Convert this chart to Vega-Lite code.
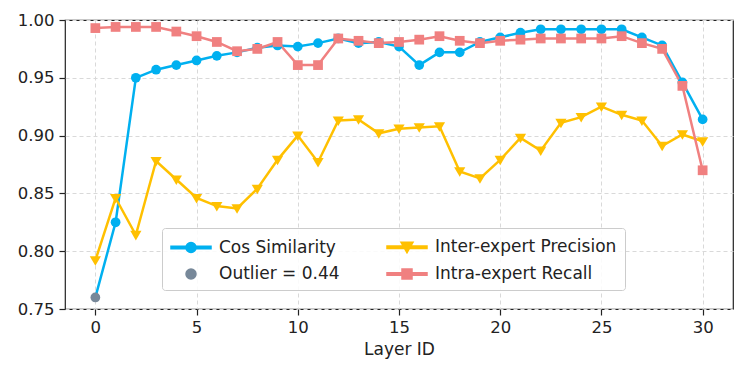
{
  "$schema": "https://vega.github.io/schema/vega-lite/v6.json",
  "width": 668,
  "height": 289,
  "autosize": {"type": "none"},
  "padding": {"left": 65, "top": 20, "right": 14, "bottom": 65},
  "config": {
    "font": "DejaVu Sans",
    "view": {"stroke": "#222", "strokeWidth": 1.2},
    "axis": {
      "labelFont": "DejaVu Sans", "titleFont": "DejaVu Sans",
      "labelFontSize": 16.5, "titleFontSize": 17, "titleFontWeight": "normal",
      "labelColor": "#222", "titleColor": "#222",
      "tickColor": "#222", "tickSize": 6, "tickWidth": 1.2,
      "domain": false,
      "gridColor": "#d9d9d9", "gridDash": [4, 3], "gridWidth": 1
    }
  },
  "data": {
    "values": [
      {"layer":0,"series":"Cos Similarity","value":0.76},
      {"layer":1,"series":"Cos Similarity","value":0.825},
      {"layer":2,"series":"Cos Similarity","value":0.950},
      {"layer":3,"series":"Cos Similarity","value":0.957},
      {"layer":4,"series":"Cos Similarity","value":0.961},
      {"layer":5,"series":"Cos Similarity","value":0.965},
      {"layer":6,"series":"Cos Similarity","value":0.969},
      {"layer":7,"series":"Cos Similarity","value":0.972},
      {"layer":8,"series":"Cos Similarity","value":0.976},
      {"layer":9,"series":"Cos Similarity","value":0.978},
      {"layer":10,"series":"Cos Similarity","value":0.977},
      {"layer":11,"series":"Cos Similarity","value":0.980},
      {"layer":12,"series":"Cos Similarity","value":0.984},
      {"layer":13,"series":"Cos Similarity","value":0.980},
      {"layer":14,"series":"Cos Similarity","value":0.981},
      {"layer":15,"series":"Cos Similarity","value":0.977},
      {"layer":16,"series":"Cos Similarity","value":0.961},
      {"layer":17,"series":"Cos Similarity","value":0.972},
      {"layer":18,"series":"Cos Similarity","value":0.972},
      {"layer":19,"series":"Cos Similarity","value":0.981},
      {"layer":20,"series":"Cos Similarity","value":0.985},
      {"layer":21,"series":"Cos Similarity","value":0.989},
      {"layer":22,"series":"Cos Similarity","value":0.992},
      {"layer":23,"series":"Cos Similarity","value":0.992},
      {"layer":24,"series":"Cos Similarity","value":0.992},
      {"layer":25,"series":"Cos Similarity","value":0.992},
      {"layer":26,"series":"Cos Similarity","value":0.992},
      {"layer":27,"series":"Cos Similarity","value":0.985},
      {"layer":28,"series":"Cos Similarity","value":0.978},
      {"layer":29,"series":"Cos Similarity","value":0.946},
      {"layer":30,"series":"Cos Similarity","value":0.914},
      {"layer":0,"series":"Inter-expert Precision","value":0.792},
      {"layer":1,"series":"Inter-expert Precision","value":0.846},
      {"layer":2,"series":"Inter-expert Precision","value":0.814},
      {"layer":3,"series":"Inter-expert Precision","value":0.878},
      {"layer":4,"series":"Inter-expert Precision","value":0.862},
      {"layer":5,"series":"Inter-expert Precision","value":0.846},
      {"layer":6,"series":"Inter-expert Precision","value":0.839},
      {"layer":7,"series":"Inter-expert Precision","value":0.837},
      {"layer":8,"series":"Inter-expert Precision","value":0.854},
      {"layer":9,"series":"Inter-expert Precision","value":0.879},
      {"layer":10,"series":"Inter-expert Precision","value":0.900},
      {"layer":11,"series":"Inter-expert Precision","value":0.877},
      {"layer":12,"series":"Inter-expert Precision","value":0.913},
      {"layer":13,"series":"Inter-expert Precision","value":0.914},
      {"layer":14,"series":"Inter-expert Precision","value":0.902},
      {"layer":15,"series":"Inter-expert Precision","value":0.906},
      {"layer":16,"series":"Inter-expert Precision","value":0.907},
      {"layer":17,"series":"Inter-expert Precision","value":0.908},
      {"layer":18,"series":"Inter-expert Precision","value":0.869},
      {"layer":19,"series":"Inter-expert Precision","value":0.863},
      {"layer":20,"series":"Inter-expert Precision","value":0.879},
      {"layer":21,"series":"Inter-expert Precision","value":0.898},
      {"layer":22,"series":"Inter-expert Precision","value":0.887},
      {"layer":23,"series":"Inter-expert Precision","value":0.911},
      {"layer":24,"series":"Inter-expert Precision","value":0.916},
      {"layer":25,"series":"Inter-expert Precision","value":0.925},
      {"layer":26,"series":"Inter-expert Precision","value":0.918},
      {"layer":27,"series":"Inter-expert Precision","value":0.913},
      {"layer":28,"series":"Inter-expert Precision","value":0.891},
      {"layer":29,"series":"Inter-expert Precision","value":0.901},
      {"layer":30,"series":"Inter-expert Precision","value":0.895},
      {"layer":0,"series":"Intra-expert Recall","value":0.993},
      {"layer":1,"series":"Intra-expert Recall","value":0.994},
      {"layer":2,"series":"Intra-expert Recall","value":0.994},
      {"layer":3,"series":"Intra-expert Recall","value":0.994},
      {"layer":4,"series":"Intra-expert Recall","value":0.990},
      {"layer":5,"series":"Intra-expert Recall","value":0.986},
      {"layer":6,"series":"Intra-expert Recall","value":0.981},
      {"layer":7,"series":"Intra-expert Recall","value":0.973},
      {"layer":8,"series":"Intra-expert Recall","value":0.975},
      {"layer":9,"series":"Intra-expert Recall","value":0.981},
      {"layer":10,"series":"Intra-expert Recall","value":0.961},
      {"layer":11,"series":"Intra-expert Recall","value":0.961},
      {"layer":12,"series":"Intra-expert Recall","value":0.984},
      {"layer":13,"series":"Intra-expert Recall","value":0.982},
      {"layer":14,"series":"Intra-expert Recall","value":0.980},
      {"layer":15,"series":"Intra-expert Recall","value":0.981},
      {"layer":16,"series":"Intra-expert Recall","value":0.983},
      {"layer":17,"series":"Intra-expert Recall","value":0.986},
      {"layer":18,"series":"Intra-expert Recall","value":0.982},
      {"layer":19,"series":"Intra-expert Recall","value":0.980},
      {"layer":20,"series":"Intra-expert Recall","value":0.982},
      {"layer":21,"series":"Intra-expert Recall","value":0.983},
      {"layer":22,"series":"Intra-expert Recall","value":0.984},
      {"layer":23,"series":"Intra-expert Recall","value":0.984},
      {"layer":24,"series":"Intra-expert Recall","value":0.984},
      {"layer":25,"series":"Intra-expert Recall","value":0.984},
      {"layer":26,"series":"Intra-expert Recall","value":0.986},
      {"layer":27,"series":"Intra-expert Recall","value":0.980},
      {"layer":28,"series":"Intra-expert Recall","value":0.975},
      {"layer":29,"series":"Intra-expert Recall","value":0.943},
      {"layer":30,"series":"Intra-expert Recall","value":0.870},
      {"layer":0,"series":"Outlier = 0.44","value":0.76}
    ]
  },
  "encoding": {
    "x": {
      "field": "layer", "type": "quantitative",
      "scale": {"domain": [-1.5, 31.5], "nice": false, "zero": false},
      "axis": {"values": [0, 5, 10, 15, 20, 25, 30], "title": "Layer ID", "grid": true, "labelPadding": 4, "titlePadding": 6}
    },
    "y": {
      "field": "value", "type": "quantitative",
      "scale": {"domain": [0.75, 1.0], "nice": false, "zero": false},
      "axis": {"values": [0.75, 0.8, 0.85, 0.9, 0.95, 1.0], "format": ".2f", "title": null, "grid": true, "labelPadding": 5}
    }
  },
  "layer": [
    {
      "transform": [{"filter": "datum.layer == 0"}],
      "mark": {"type": "point", "filled": true, "opacity": 1, "size": 0, "strokeWidth": 0},
      "encoding": {
        "color": {
          "field": "series", "type": "nominal",
          "scale": {
            "domain": ["Cos Similarity", "Outlier = 0.44", "Inter-expert Precision", "Intra-expert Recall"],
            "range": ["#00B0F0", "#778899", "#FFC000", "#F08080"]
          },
          "legend": {
            "title": null,
            "orient": "none",
            "legendX": 97,
            "legendY": 208,
            "direction": "vertical",
            "columns": 2,
            "columnPadding": 44,
            "rowPadding": 7,
            "padding": 8,
            "symbolOffset": 10,
            "symbolOpacity": 1,
            "labelFont": "DejaVu Sans",
            "labelFontSize": 17,
            "labelColor": "#222",
            "labelOffset": 17,
            "labelLimit": 400,
            "symbolSize": 400,
            "strokeColor": "#cccccc",
            "fillColor": "rgba(255,255,255,0.85)",
            "cornerRadius": 3
          }
        },
        "shape": {
          "field": "series", "type": "nominal",
          "scale": {
            "domain": ["Cos Similarity", "Outlier = 0.44", "Inter-expert Precision", "Intra-expert Recall"],
            "range": [
              "M-2,-0.12H2V0.12H-2ZM0.5,0A0.5,0.5,0,1,1,-0.5,0A0.5,0.5,0,1,1,0.5,0Z",
              "M0.5,0A0.5,0.5,0,1,1,-0.5,0A0.5,0.5,0,1,1,0.5,0Z",
              "M-2,-0.12H2V0.12H-2ZM-0.6,-0.5L0.6,-0.5L0,0.55Z",
              "M-2,-0.12H2V0.12H-2ZM-0.5,-0.5H0.5V0.5H-0.5Z"
            ]
          }
        }
      }
    },
    {
      "transform": [{"filter": "datum.series != 'Outlier = 0.44'"}],
      "mark": {"type": "line", "strokeWidth": 2.5},
      "encoding": {
        "stroke": {
          "field": "series", "type": "nominal",
          "scale": {
            "domain": ["Cos Similarity", "Outlier = 0.44", "Inter-expert Precision", "Intra-expert Recall"],
            "range": ["#00B0F0", "#778899", "#FFC000", "#F08080"]
          },
          "legend": null
        }
      }
    },
    {
      "transform": [{"filter": "(datum.series == 'Cos Similarity' && datum.layer > 0) || datum.series == 'Outlier = 0.44'"}],
      "mark": {"type": "point", "shape": "circle", "filled": true, "opacity": 1, "strokeWidth": 0, "size": 95},
      "encoding": {
        "fill": {
          "field": "series", "type": "nominal",
          "scale": {
            "domain": ["Cos Similarity", "Outlier = 0.44", "Inter-expert Precision", "Intra-expert Recall"],
            "range": ["#00B0F0", "#778899", "#FFC000", "#F08080"]
          },
          "legend": null
        }
      }
    },
    {
      "transform": [{"filter": "datum.series == 'Inter-expert Precision'"}],
      "mark": {"type": "point", "shape": "M-1.15,-0.85L1.15,-0.85L0,1.1Z", "filled": true, "opacity": 1, "strokeWidth": 0, "size": 95},
      "encoding": {
        "fill": {"field": "series", "type": "nominal", "legend": null}
      }
    },
    {
      "transform": [{"filter": "datum.series == 'Intra-expert Recall'"}],
      "mark": {"type": "point", "shape": "square", "filled": true, "opacity": 1, "strokeWidth": 0, "size": 95},
      "encoding": {
        "fill": {"field": "series", "type": "nominal", "legend": null}
      }
    }
  ]
}
